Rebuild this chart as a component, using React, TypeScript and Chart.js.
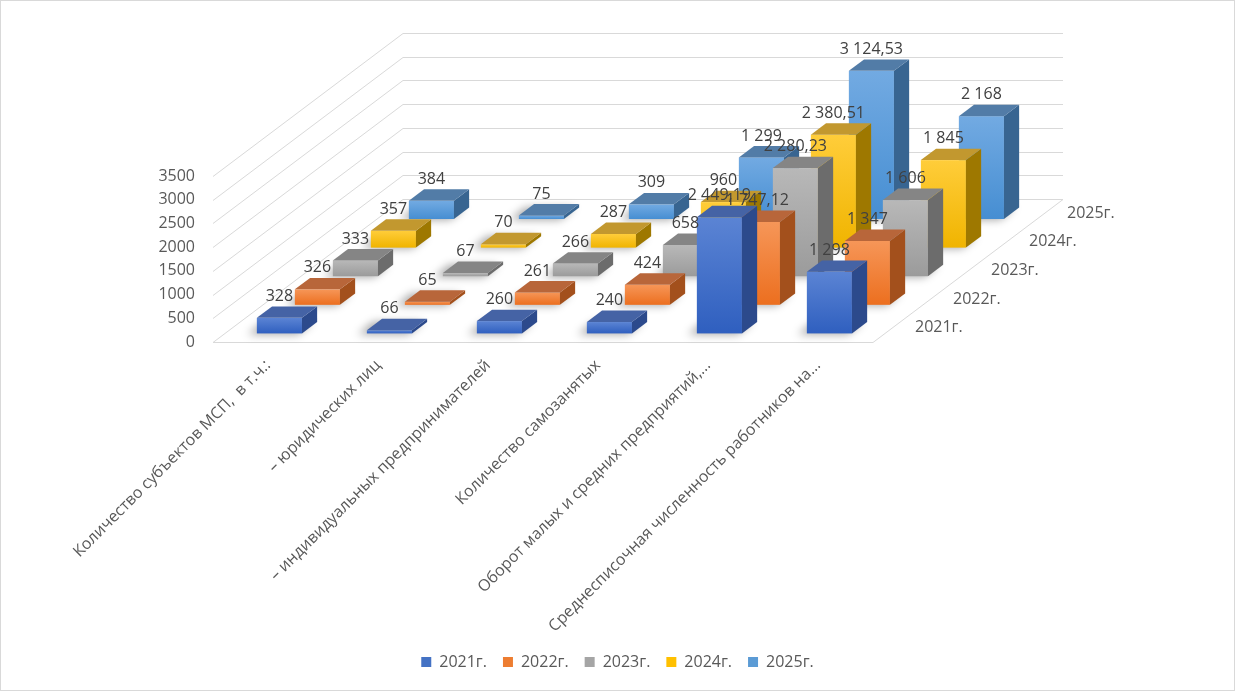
import React, { useEffect, useRef } from 'react';
import Chart from 'chart.js/auto';

// chart data
const categories = [
  'Количество субъектов МСП,  в т.ч.:',
  '– юридических лиц',
  '– индивидуальных предпринимателей',
  'Количество самозанятых',
  'Оборот малых и средних предприятий,...',
  'Среднесписочная численность работников на...',
];
const years = ['2021г.', '2022г.', '2023г.', '2024г.', '2025г.'];
const values2021 = [328, 66, 260, 240, 2449.19, 1298];
const values2022 = [326, 65, 261, 424, 1747.12, 1347];
const values2023 = [333, 67, 266, 658, 2280.23, 1606];
const values2024 = [357, 70, 287, 960, 2380.51, 1845];
const values2025 = [384, 75, 309, 1299, 3124.53, 2168];
const yMin = 0;
const yMax = 3500;
const yStep = 500;

// styles
const FONT = "'Open Sans', sans-serif";
const TEXT = '#595959';
const GRID = '#d9d9d9';
const legendColors = ['#4472C4', '#ED7D31', '#A5A5A5', '#FFC000', '#5B9BD5'];
const faces = [
  { hi: '#5b84d4', lo: '#2f5fbf', top: '#4563a5', side: '#2c4a8c' },
  { hi: '#f69658', lo: '#ec6f1f', top: '#b8663a', side: '#a3501c' },
  { hi: '#b8b8b8', lo: '#9b9b9b', top: '#858585', side: '#6c6c6c' },
  { hi: '#ffcd3a', lo: '#f0b400', top: '#c2982f', side: '#9e7800' },
  { hi: '#72aae2', lo: '#468ed2', top: '#527ca7', side: '#386591' },
];
const WALL_DX = 190; // depth of the floor, px
const WALL_DY = 143;
const BAR_HALF = 0.04; // half bar depth as share of the floor depth

const fmt = (v: number) => {
  const [i, d] = v.toFixed(2).split('.');
  const int = i.replace(/\B(?=(\d{3})+(?!\d))/g, ' ');
  return d === '00' ? int : `${int},${d}`;
};

const rowOffset = (d: number, n: number) => {
  const f = (d + 0.5) / n - BAR_HALF;
  return { ox: f * WALL_DX, oy: -f * WALL_DY };
};

const bars3d = {
  id: 'bars3d',
  beforeDraw(chart: any) {
    const { ctx, chartArea, scales } = chart;
    const L = chartArea.left;
    const R = chartArea.right;
    const B = chartArea.bottom;
    ctx.save();
    ctx.fillStyle = '#fff';
    ctx.fillRect(0, 0, chart.width, chart.height);
    ctx.strokeStyle = GRID;
    ctx.lineWidth = 1;
    ctx.strokeRect(0.5, 0.5, chart.width - 1, chart.height - 1);
    scales.y.ticks.forEach((t: any) => {
      const py = Math.round(scales.y.getPixelForValue(t.value)) + 0.5;
      ctx.beginPath();
      ctx.moveTo(L, py);
      ctx.lineTo(L + WALL_DX, py - WALL_DY);
      ctx.lineTo(R + WALL_DX, py - WALL_DY);
      ctx.stroke();
    });
    ctx.beginPath();
    ctx.moveTo(L, B + 0.5);
    ctx.lineTo(R, B + 0.5);
    ctx.lineTo(R + WALL_DX, B + 0.5 - WALL_DY);
    ctx.stroke();
    ctx.restore();
  },
  beforeDatasetsDraw(chart: any) {
    const { ctx } = chart;
    const n = chart.data.datasets.length;
    const bdx = 2 * BAR_HALF * WALL_DX;
    const bdy = 2 * BAR_HALF * WALL_DY;
    ctx.save();
    for (let d = n - 1; d >= 0; d--) {
      const meta = chart.getDatasetMeta(d);
      const { ox, oy } = rowOffset(d, n);
      const c = faces[d];
      meta.data.forEach((bar: any) => {
        const x1 = bar.x - bar.width / 2 + ox;
        const x2 = bar.x + bar.width / 2 + ox;
        const yt = bar.y + oy;
        const yb = bar.base + oy;
        // soft shadow on the floor
        ctx.save();
        ctx.filter = 'blur(4px)';
        ctx.fillStyle = 'rgba(0,0,0,0.35)';
        ctx.beginPath();
        ctx.moveTo(x1 - 9, yb + 1);
        ctx.lineTo(x2 - 4, yb + 1);
        ctx.lineTo(x2 + bdx - 4, yb - bdy);
        ctx.lineTo(x1 + bdx - 9, yb - bdy);
        ctx.closePath();
        ctx.fill();
        ctx.restore();
        // front
        const g = ctx.createLinearGradient(0, yt, 0, yb);
        g.addColorStop(0, c.hi);
        g.addColorStop(1, c.lo);
        ctx.fillStyle = g;
        ctx.fillRect(x1, yt, x2 - x1, yb - yt);
        // side
        ctx.fillStyle = c.side;
        ctx.beginPath();
        ctx.moveTo(x2, yt);
        ctx.lineTo(x2 + bdx, yt - bdy);
        ctx.lineTo(x2 + bdx, yb - bdy);
        ctx.lineTo(x2, yb);
        ctx.closePath();
        ctx.fill();
        // top
        ctx.fillStyle = c.top;
        ctx.beginPath();
        ctx.moveTo(x1, yt);
        ctx.lineTo(x1 + bdx, yt - bdy);
        ctx.lineTo(x2 + bdx, yt - bdy);
        ctx.lineTo(x2, yt);
        ctx.closePath();
        ctx.fill();
      });
    }
    ctx.restore();
    return false;
  },
  afterDraw(chart: any) {
    const { ctx, chartArea } = chart;
    const n = chart.data.datasets.length;
    const bdy = 2 * BAR_HALF * WALL_DY;
    ctx.save();
    ctx.font = `16px ${FONT}`;
    ctx.textBaseline = 'middle';
    // value labels
    ctx.fillStyle = '#404040';
    ctx.textAlign = 'center';
    for (let d = n - 1; d >= 0; d--) {
      const meta = chart.getDatasetMeta(d);
      const { ox, oy } = rowOffset(d, n);
      meta.data.forEach((bar: any, i: number) => {
        const v = chart.data.datasets[d].data[i] as number;
        ctx.fillText(fmt(v), bar.x + ox, bar.y + oy - bdy - 10);
      });
    }
    // depth axis labels
    ctx.fillStyle = TEXT;
    ctx.textAlign = 'left';
    chart.data.datasets.forEach((ds: any, d: number) => {
      const f = (d + 0.5) / n;
      ctx.fillText(ds.label, chartArea.right + f * WALL_DX + 23, chartArea.bottom - f * WALL_DY);
    });
    ctx.restore();
  },
};

const App = () => {
  const chartRef = useRef<HTMLCanvasElement>(null);

  useEffect(() => {
    const ctx = chartRef.current?.getContext('2d');
    if (!ctx) return;
    const series = [values2021, values2022, values2023, values2024, values2025];

    const chart = new Chart(ctx, {
      type: 'bar',
      data: {
        labels: categories,
        datasets: years.map((y, d) => ({
          label: y,
          data: series[d],
          backgroundColor: legendColors[d],
          borderWidth: 0,
          grouped: false,
          barPercentage: 0.41,
          categoryPercentage: 1,
        })),
      },
      options: {
        responsive: false,
        animation: false,
        layout: { padding: { top: 176, bottom: 11, left: 0, right: 0 } },
        plugins: {
          tooltip: { enabled: false },
          legend: {
            position: 'bottom',
            labels: {
              boxWidth: 10,
              boxHeight: 10,
              padding: 16,
              color: TEXT,
              font: { family: FONT, size: 16 },
            },
          },
        },
        scales: {
          x: {
            grid: { display: false },
            border: { display: false },
            ticks: {
              autoSkip: false,
              minRotation: 45,
              maxRotation: 45,
              color: TEXT,
              font: { family: FONT, size: 16 },
              padding: 6,
            },
            afterFit: (s: any) => {
              s.height = 296;
            },
          },
          y: {
            min: yMin,
            max: yMax,
            grid: { display: false, drawTicks: false },
            border: { display: false },
            ticks: {
              stepSize: yStep,
              color: TEXT,
              font: { family: FONT, size: 16 },
              padding: 18,
              callback: (v: any) => String(v),
            },
            afterFit: (s: any) => {
              s.width = 213;
            },
          },
          yRight: {
            type: 'linear',
            position: 'right',
            grid: { display: false, drawTicks: false },
            border: { display: false },
            ticks: { display: false },
            afterFit: (s: any) => {
              s.width = 362;
            },
          },
        },
      },
      plugins: [bars3d],
    });

    return () => {
      chart.destroy();
    };
  }, []);

  return (
    <canvas
      ref={chartRef}
      width={1235}
      height={691}
      style={{ position: 'absolute', left: 0, top: 0 }}
    />
  );
};

export default App;
